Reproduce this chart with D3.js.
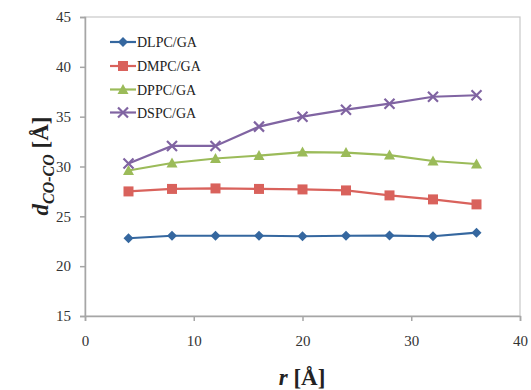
<!DOCTYPE html>
<html>
<head>
<meta charset="utf-8">
<script src="https://cdn.jsdelivr.net/npm/d3@7"></script>
<style>
  body { margin: 0; background: #fff; }
  svg text { font-family: "Liberation Serif", "Times New Roman", serif; fill: #222; }
</style>
</head>
<body>
<svg id="chart" width="531" height="390"></svg>
<script>
// Data
const rValues = [4, 8, 12, 16, 20, 24, 28, 32, 36];
const dlpc = [22.8, 23.05, 23.05, 23.05, 23.0, 23.05, 23.07, 23.0, 23.36];
const dmpc = [27.5, 27.75, 27.8, 27.75, 27.7, 27.6, 27.1, 26.7, 26.2];
const dppc = [29.6, 30.35, 30.8, 31.1, 31.45, 31.4, 31.15, 30.55, 30.25];
const dspc = [30.3, 32.06, 32.06, 34.0, 35.0, 35.7, 36.3, 37.0, 37.15];
const seriesNames = ["DLPC/GA", "DMPC/GA", "DPPC/GA", "DSPC/GA"];
const xTicks = [0, 10, 20, 30, 40];
const yTicks = [15, 20, 25, 30, 35, 40, 45];

const series = [
  { name: seriesNames[0], values: dlpc, color: "#35679f", marker: "diamond" },
  { name: seriesNames[1], values: dmpc, color: "#d9625c", marker: "square" },
  { name: seriesNames[2], values: dppc, color: "#9bbb59", marker: "triangle" },
  { name: seriesNames[3], values: dspc, color: "#8064a2", marker: "cross" }
];

const serif = '"Liberation Serif", "Times New Roman", serif';
const svg = d3.select('#chart');
const plotLeft = 85, plotRight = 520, plotTop = 17, plotBottom = 316;

const x = d3.scaleLinear().domain([0, 40]).range([plotLeft, plotRight]);
const y = d3.scaleLinear().domain([15, 45]).range([plotBottom, plotTop]);

// frame (top/right light border)
svg.append('rect')
  .attr('x', plotLeft).attr('y', plotTop)
  .attr('width', plotRight - plotLeft).attr('height', plotBottom - plotTop)
  .attr('fill', 'none').attr('stroke', '#c8c8c8').attr('stroke-width', 1.2);

// axes
const xAxis = svg.append('g')
  .attr('transform', `translate(0,${plotBottom})`)
  .call(d3.axisBottom(x).tickValues(xTicks).tickSize(5).tickPadding(14));
const yAxis = svg.append('g')
  .attr('transform', `translate(${plotLeft},0)`)
  .call(d3.axisLeft(y).tickValues(yTicks).tickSize(5).tickPadding(9));

[xAxis, yAxis].forEach(g => {
  g.attr('font-family', serif);
  g.select('.domain').attr('stroke', '#a6a6a6').attr('stroke-width', 1.5);
  g.selectAll('.tick line').attr('stroke', '#a6a6a6').attr('stroke-width', 1.5);
  g.selectAll('.tick text')
    .style('font-family', serif)
    .style('font-size', '15px').style('fill', '#333');
});

// lines + markers
const line = d3.line()
  .x((d, i) => x(rValues[i]))
  .y(d => y(d));

function drawMarker(g, type, color) {
  if (type === 'diamond') {
    g.append('path').attr('d', 'M0,-5L5,0L0,5L-5,0Z').attr('fill', color);
  } else if (type === 'square') {
    g.append('rect').attr('x', -5).attr('y', -5).attr('width', 10).attr('height', 10).attr('fill', color);
  } else if (type === 'triangle') {
    g.append('path').attr('d', 'M0,-5.5L5.5,4.5L-5.5,4.5Z').attr('fill', color);
  } else {
    g.append('path').attr('d', 'M-5,-5L5,5M-5,5L5,-5')
      .attr('stroke', color).attr('stroke-width', 2.2).attr('fill', 'none');
  }
}

series.forEach(s => {
  svg.append('path')
    .datum(s.values)
    .attr('d', line)
    .attr('fill', 'none')
    .attr('stroke', s.color)
    .attr('stroke-width', 2.2);

  s.values.forEach((v, i) => {
    const g = svg.append('g').attr('transform', `translate(${x(rValues[i])},${y(v)})`);
    drawMarker(g, s.marker, s.color);
  });
});

// legend
const legendY = [42, 66, 89.5, 112.5];
series.forEach((s, i) => {
  const g = svg.append('g').attr('transform', `translate(110,${legendY[i]})`);
  g.append('line').attr('x1', 0).attr('x2', 26).attr('y1', 0).attr('y2', 0)
    .attr('stroke', s.color).attr('stroke-width', 2.2);
  const m = g.append('g').attr('transform', 'translate(13,0)');
  drawMarker(m, s.marker, s.color);
  g.append('text').attr('x', 27).attr('y', 5)
    .style('font-family', serif)
    .style('font-size', '14px').text(s.name);
});

// x axis title
const xt = svg.append('text')
  .attr('x', 302).attr('y', 385)
  .attr('text-anchor', 'middle')
  .style('font-family', serif)
  .style('font-size', '23px').style('font-weight', 'bold');
xt.append('tspan').style('font-style', 'italic').text('r');
xt.append('tspan').text(' [Å]');

// y axis title
const yt = svg.append('text')
  .attr('transform', 'translate(48,166) rotate(-90)')
  .attr('text-anchor', 'middle')
  .style('font-family', serif)
  .style('font-size', '23px').style('font-weight', 'bold');
yt.append('tspan').style('font-style', 'italic').text('d');
yt.append('tspan').style('font-style', 'italic').style('font-size', '16px').attr('dy', 6).text('CO-CO');
yt.append('tspan').attr('dy', -6).text(' [Å]');
</script>
</body>
</html>
